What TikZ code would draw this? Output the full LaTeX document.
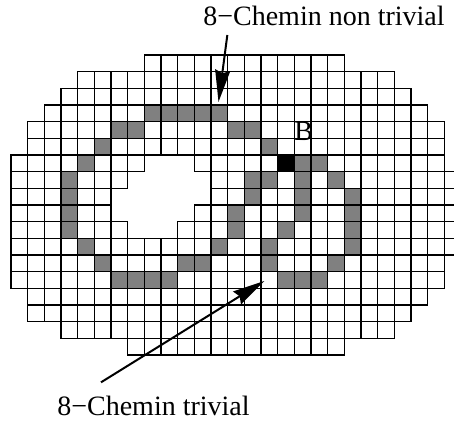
\documentclass[tikz,border=0pt]{standalone}
\usepackage{fontspec}
\setmainfont{Liberation Serif}
\usetikzlibrary{arrows.meta}
\begin{document}
\begin{tikzpicture}[x=8.3333pt, y=8.3333pt, >={Stealth[length=16pt,width=7.5pt,inset=1.5pt]},
  cell/.style={draw=black, line width=0.6pt, fill=white},
  pathcell/.style={cell, fill=gray},
  startcell/.style={cell, fill=black},
  lbl/.style={font=\fontsize{14pt}{16pt}\selectfont, inner sep=0pt, anchor=base}]
\clip (-0.66,3.3) rectangle (26.58,-22.02);
% grid: row/first/last column
\foreach \r/\a/\b in {0/8/19, 1/4/22, 2/3/23, 3/2/24, 4/1/25, 5/1/25,
    6/0/7, 6/11/25, 7/0/6, 7/12/26, 8/0/5, 8/12/26, 9/0/5, 9/11/26,
    10/0/6, 10/10/26, 11/0/26, 12/0/25, 13/0/25, 14/1/24, 15/1/23,
    16/3/22, 17/7/19}
  \foreach \c in {\a,...,\b}
    \draw[cell] (\c,-\r) rectangle ++(1,-1);
% the two 8-paths
\foreach \c/\r in {8/3, 9/3, 10/3, 11/3, 12/3, 6/4, 7/4, 13/4, 14/4, 5/5, 15/5,
    4/6, 17/6, 18/6, 3/7, 14/7, 15/7, 17/7, 19/7, 3/8, 14/8, 17/8, 20/8,
    3/9, 13/9, 17/9, 20/9, 3/10, 13/10, 16/10, 20/10, 4/11, 12/11, 15/11, 20/11,
    5/12, 10/12, 11/12, 15/12, 19/12, 6/13, 7/13, 8/13, 9/13, 16/13, 17/13, 18/13}
  \draw[pathcell] (\c,-\r) rectangle ++(1,-1);
\draw[startcell] (16,-6) rectangle ++(1,-1);
\node[lbl, anchor=center] (B) at (17.57,-4.6) {B};
% labels
\node[lbl] (nontrivial) at (18.78,1.77) {8−Chemin non trivial};
\node[lbl] (trivial) at (8.55,-21.6) {8−Chemin trivial};
\coordinate (nontrivialTail) at (12.98,1.2);
\coordinate (nontrivialTip) at (12.45,-2.82);
\coordinate (trivialTail) at (5.4,-19.64);
\coordinate (trivialTip) at (15.2,-13.56);
\draw[->, line width=1pt] (nontrivialTail) -- (nontrivialTip);
\draw[->, line width=1pt] (trivialTail) -- (trivialTip);
\end{tikzpicture}
\end{document}
